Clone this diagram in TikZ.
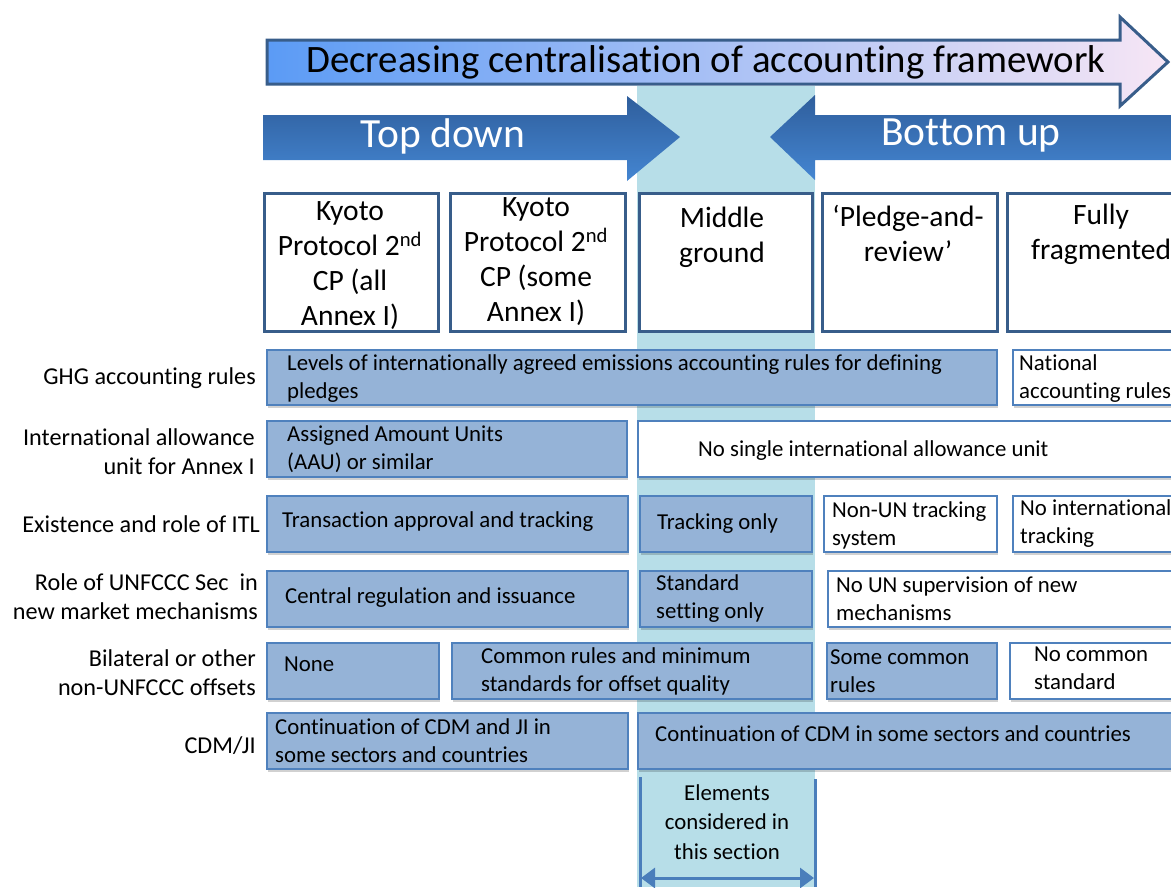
\documentclass[tikz,border=0pt]{standalone}
\usepackage{fontspec}
\setmainfont{Carlito}[Ligatures={NoCommon}]
\usetikzlibrary{arrows.meta,shadows}

\definecolor{colband}{HTML}{B7DEE8}
\definecolor{cellblue}{HTML}{95B3D7}
\definecolor{cellline}{HTML}{4F81BD}
\definecolor{frameline}{HTML}{385D8A}
\definecolor{arrowtop}{HTML}{2F5E9C}
\definecolor{arrowbot}{HTML}{4486D2}
\definecolor{spanline}{HTML}{4A7EBB}
\definecolor{gradleft}{HTML}{5B9BF5}
\definecolor{gradmid}{HTML}{96CCFA}
\definecolor{gradright}{HTML}{F7E6F5}

\tikzset{
  cellbase/.style={draw=cellline, line width=1.2pt, inner sep=0pt, outer sep=0pt,
    anchor=north west,
    drop shadow={shadow xshift=1pt, shadow yshift=-3pt, fill=black, opacity=0.18}},
  bluecell/.style={cellbase, fill=cellblue},
  whitecell/.style={cellbase, fill=white},
  celltext/.style={font=\fontsize{22.8}{28}\selectfont, align=left, inner sep=0pt, anchor=west},
  rowlabel/.style={font=\fontsize{24.2}{29}\selectfont, align=right, inner sep=0pt, anchor=east},
  hdrbox/.style={draw=frameline, line width=3pt, fill=white, inner sep=0pt,
    anchor=north west, minimum height=138pt},
  hdrtext/.style={font=\fontsize{29.5}{35}\selectfont, align=center, inner sep=0pt, anchor=north},
  bigtext/.style={font=\fontsize{41.5}{45}\selectfont, text=white, inner sep=0pt},
  spanarrow/.style={draw=spanline, line width=3pt},
}

\begin{document}
\begin{tikzpicture}[x=1pt,y=-1pt]
\useasboundingbox (0,0) rectangle (1171,887);
\clip (0,0) rectangle (1171,887);

% band marking the middle-ground column
\fill[colband] (637,86) rectangle (815,887);

% main gradient arrow
\path[draw=frameline, line width=3pt, left color=gradleft, middle color=gradmid, right color=gradright]
  (267,40) -- (1120,40) -- (1120,17) -- (1168,62) -- (1120,106) -- (1120,84) -- (267,84) -- cycle;
\node[font=\fontsize{38.8}{42}\selectfont, inner sep=0pt] (title) at (706,62)
  {Decreasing centralisation of accounting framework};

% top down / bottom up arrows
\path[top color=arrowtop, bottom color=arrowbot]
  (263,115) -- (627,115) -- (627,96) -- (680,137) -- (627,181) -- (627,160) -- (263,160) -- cycle;
\node[bigtext] (topdown) at (443,136) {Top down};
\path[top color=arrowtop, bottom color=arrowbot]
  (1175,115) -- (815,115) -- (815,95) -- (770,137) -- (815,180) -- (815,160) -- (1175,160) -- cycle;
\node[bigtext] (bottomup) at (971,136) {Bottom up};

% column headers
\node[hdrbox, minimum width=174pt] (h1) at (263,192) {};
\node[hdrbox, minimum width=175pt] (h2) at (449,192) {};
\node[hdrbox, minimum width=173pt] (h3) at (638,192) {};
\node[hdrbox, minimum width=175pt] (h4) at (821,192) {};
\node[hdrbox, minimum width=180pt] (h5) at (1006,192) {};
\node[hdrtext] (h1t) at (350,201) {Kyoto\\Protocol 2\textsuperscript{nd}\\CP (all\\Annex I)};
\node[hdrtext] (h2t) at (536,197) {Kyoto\\Protocol 2\textsuperscript{nd}\\CP (some\\Annex I)};
\node[hdrtext] (h3t) at (722,207) {Middle\\ground};
\node[hdrtext] (h4t) at (908,205) {‘Pledge-and-\\review’};
\node[hdrtext] (h5t) at (1101,204) {Fully\\fragmented};

% row labels
\node[rowlabel] (l1) at (256,378) {GHG accounting rules};
\node[rowlabel] (l2) at (255,452) {International allowance\\unit for Annex I};
\node[rowlabel] (l3) at (260,524) {Existence and role of ITL};
\node[rowlabel] (l4) at (258,597) {Role of UNFCCC Sec\ \ in\\new market mechanisms};
\node[rowlabel] (l5) at (256,673) {Bilateral or other\\non-UNFCCC offsets};
\node[rowlabel] (l6) at (256,746) {CDM/JI};

% row 1: GHG accounting rules
\node[bluecell, minimum width=730pt, minimum height=55pt] (r1a) at (267,350) {};
\node[whitecell, minimum width=165pt, minimum height=55pt] (r1b) at (1013,350) {};
\node[celltext, xshift=20pt, yshift=-1pt] (r1at) at (r1a.west)
  {Levels of internationally agreed emissions accounting rules for defining\\pledges};
\node[celltext, xshift=6pt, yshift=-1pt] (r1bt) at (r1b.west) {National\\accounting rules};

% row 2: allowance unit
\node[bluecell, minimum width=360pt, minimum height=56pt] (r2a) at (267,421) {};
\node[whitecell, minimum width=540pt, minimum height=56pt] (r2b) at (638,421) {};
\node[celltext, xshift=20pt] (r2at) at (r2a.west) {Assigned Amount Units\\(AAU) or similar};
\node[celltext, xshift=60pt, yshift=-2pt] (r2bt) at (r2b.west) {No single international allowance unit};

% row 3: ITL
\node[bluecell, minimum width=361pt, minimum height=56pt] (r3a) at (267,496) {};
\node[bluecell, minimum width=172pt, minimum height=56pt] (r3b) at (640,496) {};
\node[whitecell, minimum width=173pt, minimum height=56pt] (r3c) at (824,496) {};
\node[whitecell, minimum width=165pt, minimum height=56pt] (r3d) at (1013,496) {};
\node[celltext, xshift=15pt, yshift=2pt] (r3at) at (r3a.west) {Transaction approval and tracking};
\node[celltext, xshift=17pt] (r3bt) at (r3b.west) {Tracking only};
\node[celltext, xshift=8pt, yshift=-1pt] (r3ct) at (r3c.west) {Non-UN tracking\\system};
\node[celltext, xshift=7pt] (r3dt) at (r3d.west) {No international\\tracking};

% row 4: UNFCCC secretariat
\node[bluecell, minimum width=361pt, minimum height=56pt] (r4a) at (267,571) {};
\node[bluecell, minimum width=172pt, minimum height=56pt] (r4b) at (640,571) {};
\node[whitecell, minimum width=350pt, minimum height=56pt] (r4c) at (828,571) {};
\node[celltext, xshift=18pt, yshift=1pt] (r4at) at (r4a.west) {Central regulation and issuance};
\node[celltext, xshift=16pt] (r4bt) at (r4b.west) {Standard\\setting only};
\node[celltext, xshift=8pt] (r4ct) at (r4c.west) {No UN supervision of new\\mechanisms};

% row 5: bilateral offsets
\node[bluecell, minimum width=172pt, minimum height=56pt] (r5a) at (267,643) {};
\node[bluecell, minimum width=360pt, minimum height=56pt] (r5b) at (452,643) {};
\node[bluecell, minimum width=170pt, minimum height=56pt] (r5c) at (827,643) {};
\node[whitecell, minimum width=170pt, minimum height=56pt] (r5d) at (1010,643) {};
\node[celltext, xshift=17pt, yshift=7pt] (r5at) at (r5a.west) {None};
\node[celltext, xshift=29pt] (r5bt) at (r5b.west) {Common rules and minimum\\standards for offset quality};
\node[celltext, xshift=3pt] (r5ct) at (r5c.west) {Some common\\rules};
\node[celltext, xshift=24pt, yshift=3pt] (r5dt) at (r5d.west) {No common\\standard};

% row 6: CDM/JI
\node[bluecell, minimum width=361pt, minimum height=56pt] (r6a) at (267,713) {};
\node[bluecell, minimum width=540pt, minimum height=56pt] (r6b) at (638,713) {};
\node[celltext, xshift=8pt] (r6at) at (r6a.west) {Continuation of CDM and JI in\\some sectors and countries};
\node[celltext, xshift=17pt, yshift=7pt] (r6bt) at (r6b.west) {Continuation of CDM in some sectors and countries};

% span of the middle-ground column
\coordinate (spanLtop) at (640,777);
\coordinate (spanLbot) at (640,887);
\coordinate (spanRtop) at (815,779);
\coordinate (spanRbot) at (815,887);
\coordinate (spanL) at (641,878);
\coordinate (spanR) at (814,878);
\draw[spanarrow] (spanLtop) -- (spanLbot);
\draw[spanarrow] (spanRtop) -- (spanRbot);
\draw[spanarrow, {Triangle[length=14pt,width=20pt]}-{Triangle[length=14pt,width=20pt]}] (spanL) -- (spanR);
\node[font=\fontsize{22.8}{29.5}\selectfont, align=center, inner sep=0pt] (spantext) at (727,822)
  {Elements\\considered in\\this section};
\end{tikzpicture}
\end{document}
